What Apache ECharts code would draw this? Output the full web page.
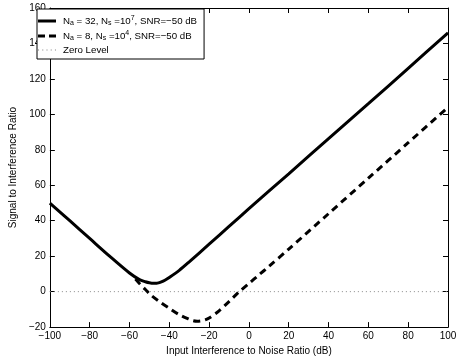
<!DOCTYPE html>
<html><head><meta charset="utf-8">
<script src="https://cdn.jsdelivr.net/npm/echarts@6/dist/echarts.min.js"></script>
<style>html,body{margin:0;padding:0;background:#fff}#c{width:460px;height:361px}</style>
</head><body><div id="c"></div>
<script>
const xTicks = [-100,-80,-60,-40,-20,0,20,40,60,80,100];
const yTicks = [-20,0,20,40,60,80,100,120,140,160];

const solidX = [-100,-90,-80,-70,-60,-55,-52,-50,-48,-47,-46,-44,-42,-40,-35,-30,-20,-10,0,20,40,60,80,100];
const solidY = [50,40,30,20,10.5,6.8,5.6,5.0,4.7,4.7,4.8,5.5,6.6,8.0,12,16.8,26.8,36.8,46.8,66.5,86.3,106,126,146];

const dashX = [-57,-55,-52,-50,-45,-40,-35,-30,-28,-26,-24,-22,-20,-15,-10,-5,0,5,10,20,40,60,80,100];
const dashY = [7.1,4.6,1.2,-1.2,-5.6,-9.4,-13,-15.6,-16.4,-16.7,-16.5,-15.9,-14.9,-10.8,-5.6,-0.2,4.6,9.4,14.2,24,44,64,84,104];

const zeroX = [-100,100];
const zeroY = [0,0];

const seriesNames = ['s1','s2','zero'];
const legendLabels = {
  s1: 'N{sub|a} = 32, N{sub|s} =10{sup|7}, SNR=\u221250 dB',
  s2: 'N{sub|a} = 8, N{sub|s} =10{sup|4}, SNR=\u221250 dB',
  zero: 'Zero Level'
};

const font = 'Liberation Sans, Arial, sans-serif';
const zip = (a,b) => a.map((v,i)=>[v,b[i]]);
const minus = v => String(v).replace('-','\u2212');

const chart = echarts.init(document.getElementById('c'), null, {renderer:'canvas'});
const axisCommon = () => ({
  axisLine:{show:true,onZero:false,lineStyle:{color:'#000',width:1}},
  axisTick:{show:true,inside:true,length:5,lineStyle:{color:'#000'}},
  splitLine:{show:false}
});
chart.setOption({
  animation:false,
  backgroundColor:'#fff',
  grid:{left:33,right:12,top:8,bottom:25,containLabel:false},
  xAxis:[
    Object.assign({type:'value',min:xTicks[0],max:xTicks[xTicks.length-1],interval:20,position:'bottom',
      name:'Input Interference to Noise Ratio (dB)',nameLocation:'middle',nameGap:18,
      nameTextStyle:{fontFamily:font,fontSize:10,color:'#000'},
      axisLabel:{fontFamily:font,fontSize:10,color:'#000',margin:4,formatter:minus}},axisCommon()),
    Object.assign({type:'value',min:xTicks[0],max:xTicks[xTicks.length-1],interval:20,position:'top',axisLabel:{show:false}},axisCommon())
  ],
  yAxis:[
    Object.assign({type:'value',min:yTicks[0],max:yTicks[yTicks.length-1],interval:20,position:'left',
      name:'Signal to Interference Ratio',nameLocation:'middle',nameGap:24,
      nameTextStyle:{fontFamily:font,fontSize:10,color:'#000'},
      axisLabel:{fontFamily:font,fontSize:10,color:'#000',margin:4,formatter:minus}},axisCommon()),
    Object.assign({type:'value',min:yTicks[0],max:yTicks[yTicks.length-1],interval:20,position:'right',axisLabel:{show:false}},axisCommon())
  ],
  legend:{
    show:true, left:37, top:9, orient:'vertical',
    backgroundColor:'#fff', borderColor:'#000', borderWidth:1,
    padding:[5,7,3,1], itemGap:2, itemWidth:18, itemHeight:3,
    data:[
      {name:'s1',icon:'rect',itemStyle:{color:'#000'}},
      {name:'s2',icon:'path://M0,0h7v3h-7z M11,0h7v3h-7z',itemStyle:{color:'#000'}},
      {name:'zero',icon:'path://M0,0h1v1h-1z M4,0h1v1h-1z M8,0h1v1h-1z M12,0h1v1h-1z M16,0h1v1h-1z',itemStyle:{color:'#888'}}
    ],
    formatter:n=>legendLabels[n],
    textStyle:{fontFamily:font,fontSize:9.7,color:'#000',lineHeight:12,padding:[0,0,0,2],
      rich:{
        sub:{fontFamily:font,fontSize:7,color:'#000',verticalAlign:'bottom',lineHeight:12,padding:[6,0,0,0]},
        sup:{fontFamily:font,fontSize:7,color:'#000',verticalAlign:'top',lineHeight:12,padding:[0,0,5,0]}
      }}
  },
  series:[
    {name:'s1',type:'line',data:zip(solidX,solidY),showSymbol:false,symbol:'none',smooth:0.3,
     lineStyle:{color:'#000',width:3},itemStyle:{color:'#000'}},
    {name:'s2',type:'line',data:zip(dashX,dashY),showSymbol:false,symbol:'none',smooth:0.3,
     lineStyle:{color:'#000',width:3,type:[7,5]},itemStyle:{color:'#000'}},
    {name:'zero',type:'line',data:zip(zeroX,zeroY),showSymbol:false,symbol:'none',z:1,
     lineStyle:{color:'#888',width:1,type:[1,3]},itemStyle:{color:'#888'}}
  ]
});
</script></body></html>
